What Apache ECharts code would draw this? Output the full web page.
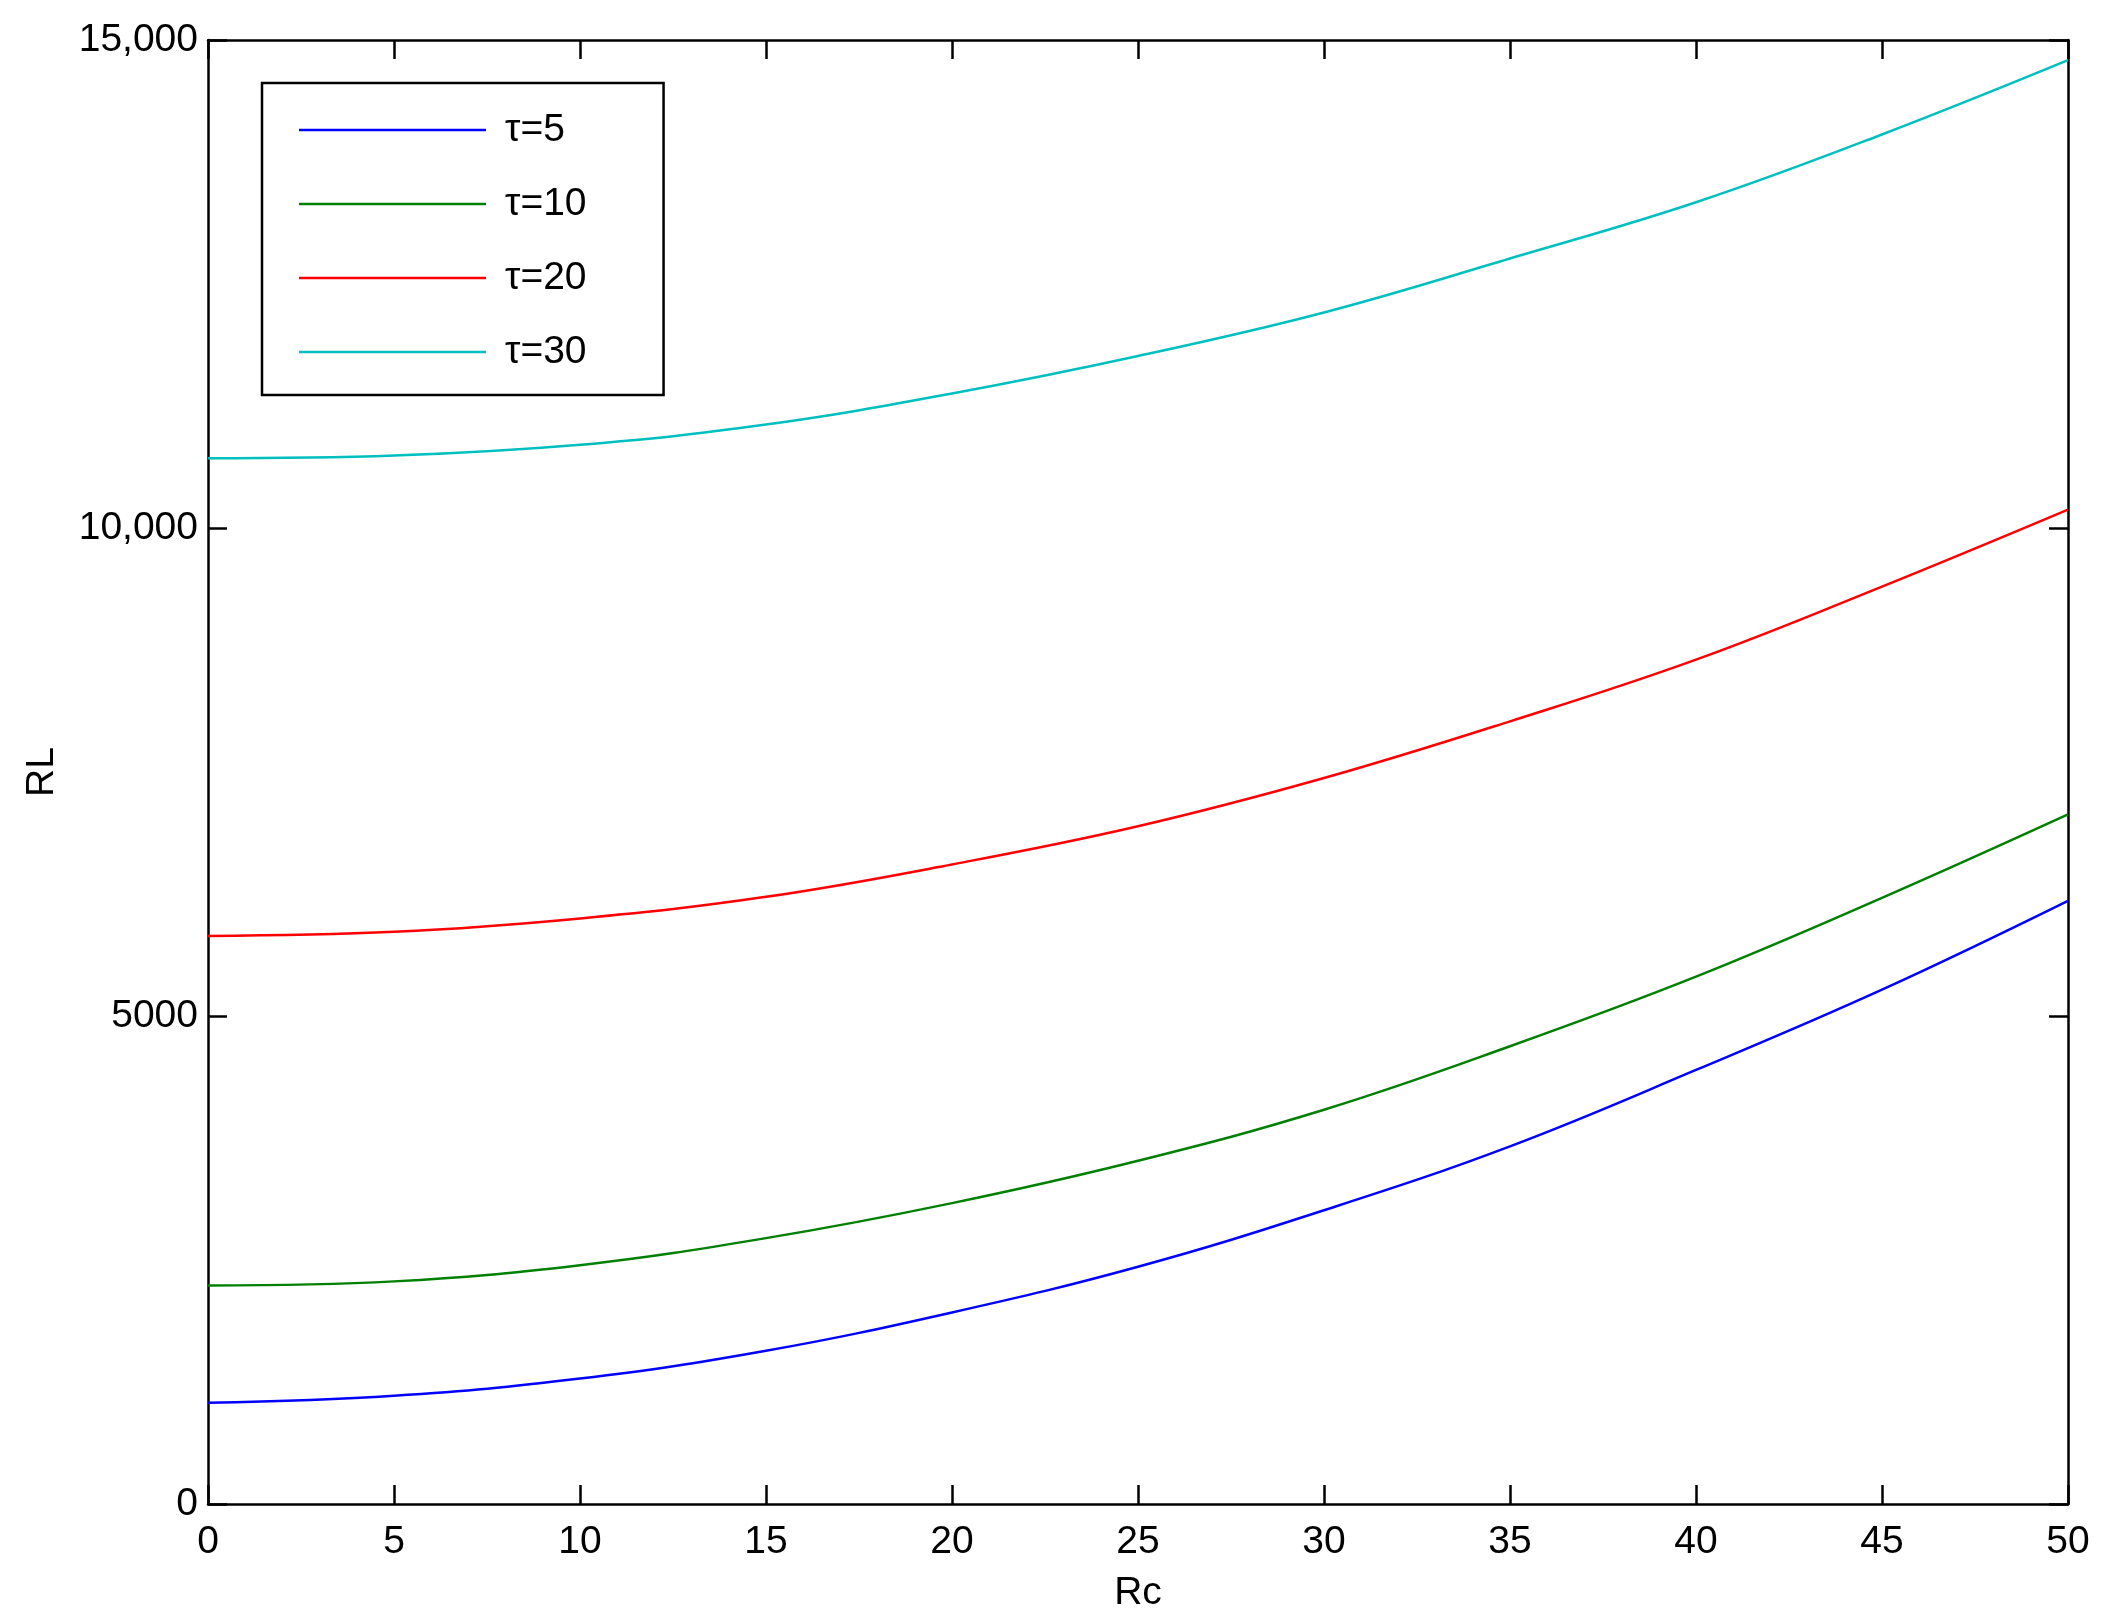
<!DOCTYPE html>
<html>
<head>
<meta charset="utf-8">
<script src="https://cdn.jsdelivr.net/npm/echarts@6/dist/echarts.min.js"></script>
<style>html,body{margin:0;padding:0;background:#fff}#c{width:2115px;height:1620px}</style>
</head>
<body>
<div id="c"></div>
<script>
const rc = [0, 5, 10, 15, 20, 25, 30, 35, 40, 45, 50];
const seriesNames = ['τ=5', 'τ=10', 'τ=20', 'τ=30'];
const tau5 = [1037, 1110, 1285, 1570, 1963, 2431, 3010, 3665, 4447, 5270, 6180];
const tau10 = [2240, 2281, 2447, 2724, 3083, 3517, 4040, 4690, 5403, 6210, 7065];
const tau20 = [5820, 5862, 6000, 6221, 6553, 6944, 7438, 8019, 8651, 9400, 10189];
const tau30 = [10714, 10742, 10853, 11060, 11378, 11762, 12208, 12761, 13337, 14032, 14793];
const colors = ['#0000ff', '#008000', '#ff0000', '#00bfbf'];
const yTicks = [0, 5000, 10000, 15000];

const allSeries = [tau5, tau10, tau20, tau30];
const FONT = 'Liberation Sans';
const chart = echarts.init(document.getElementById('c'));
const axisLine = {show: true, onZero: false, lineStyle: {color: '#000', width: 2.5}};
const axisTick = {show: true, inside: true, length: 19, lineStyle: {color: '#000', width: 2.5}};
function fmtY(v){ return v >= 10000 ? v.toLocaleString('en-US') : String(v); }
chart.setOption({
  animation: false,
  backgroundColor: '#fff',
  grid: {left: 208, right: 47, top: 40, bottom: 116, containLabel: false},
  legend: {
    orient: 'vertical', left: 262, top: 83,
    data: seriesNames,
    icon: 'rect',
    itemWidth: 187, itemHeight: 2.5, itemGap: 34,
    padding: [27, 77, 23, 37],
    borderColor: '#000', borderWidth: 2.5,
    textStyle: {fontFamily: FONT, fontSize: 39, lineHeight: 40, color: '#000', padding: [0, 0, 0, 14]}
  },
  xAxis: [
    {type: 'value', min: 0, max: 50, interval: 5, position: 'bottom',
     name: 'Rc', nameLocation: 'middle', nameGap: 70,
     nameTextStyle: {fontFamily: FONT, fontSize: 39, color: '#000'},
     axisLine, axisTick, splitLine: {show: false},
     axisLabel: {fontFamily: FONT, fontSize: 39, color: '#000', margin: 19}},
    {type: 'value', min: 0, max: 50, interval: 5, position: 'top',
     axisLine, axisTick, splitLine: {show: false}, axisLabel: {show: false}}
  ],
  yAxis: [
    {type: 'value', min: 0, max: 15000, interval: 5000, position: 'left',
     name: 'RL', nameLocation: 'middle', nameGap: 146,
     nameTextStyle: {fontFamily: FONT, fontSize: 39, color: '#000'},
     axisLine, axisTick, splitLine: {show: false},
     axisLabel: {fontFamily: FONT, fontSize: 39, color: '#000', margin: 10,
       formatter: v => yTicks.includes(v) ? fmtY(v) : ''}},
    {type: 'value', min: 0, max: 15000, interval: 5000, position: 'right',
     axisLine, axisTick, splitLine: {show: false}, axisLabel: {show: false}}
  ],
  series: seriesNames.map((n, i) => ({
    name: n, type: 'line', smooth: 0.4, symbol: 'none',
    data: rc.map((x, j) => [x, allSeries[i][j]]),
    lineStyle: {color: colors[i], width: 2.5},
    itemStyle: {color: colors[i]}
  }))
});
</script>
</body>
</html>
